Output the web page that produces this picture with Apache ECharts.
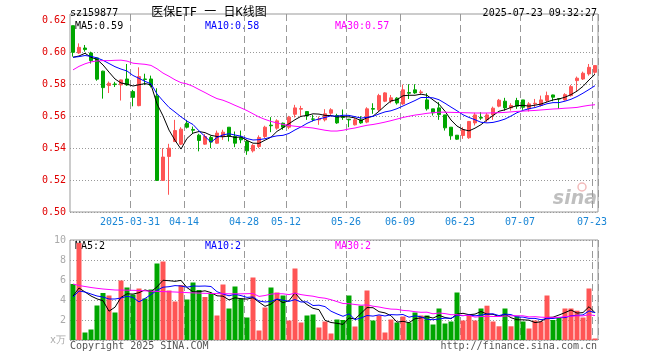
<!DOCTYPE html>
<html><head><meta charset="utf-8">
<script src="https://cdn.jsdelivr.net/npm/echarts@6/dist/echarts.min.js"></script>
<style>html,body{margin:0;padding:0;background:#fff}#c{width:660px;height:360px}</style>
</head><body><div id="c"></div>
<script>
const dates = [
'2025-03-17','2025-03-18','2025-03-19','2025-03-20','2025-03-21','2025-03-24','2025-03-25','2025-03-26','2025-03-27','2025-03-28','2025-03-31',
'2025-04-01','2025-04-02','2025-04-03','2025-04-07','2025-04-08','2025-04-09','2025-04-10','2025-04-11','2025-04-14','2025-04-15','2025-04-16','2025-04-17','2025-04-18','2025-04-21','2025-04-22','2025-04-23','2025-04-24','2025-04-25','2025-04-28','2025-04-29','2025-04-30',
'2025-05-06','2025-05-07','2025-05-08','2025-05-09','2025-05-12','2025-05-13','2025-05-14','2025-05-15','2025-05-16','2025-05-19','2025-05-20','2025-05-21','2025-05-22','2025-05-23','2025-05-26','2025-05-27','2025-05-28','2025-05-29','2025-05-30',
'2025-06-03','2025-06-04','2025-06-05','2025-06-06','2025-06-09','2025-06-10','2025-06-11','2025-06-12','2025-06-13','2025-06-16','2025-06-17','2025-06-18','2025-06-19','2025-06-20','2025-06-23','2025-06-24','2025-06-25','2025-06-26','2025-06-27','2025-06-30',
'2025-07-01','2025-07-02','2025-07-03','2025-07-04','2025-07-07','2025-07-08','2025-07-09','2025-07-10','2025-07-11','2025-07-14','2025-07-15','2025-07-16','2025-07-17','2025-07-18','2025-07-21','2025-07-22','2025-07-23'];
const tickDates = ['2025-03-31','2025-04-14','2025-04-28','2025-05-12','2025-05-26','2025-06-09','2025-06-23','2025-07-07','2025-07-23'];
const tickLabels = ['2025-03-31','04-14','04-28','05-12','05-26','06-09','06-23','07-07','07-23'];
const opens = [0.6167,0.5996,0.6027,0.5996,0.5965,0.5882,0.5792,0.5802,0.5796,0.5833,
0.5754,0.5666,0.5833,0.5833,0.5727,0.5198,0.5348,0.5441,0.5425,0.5556,
0.5517,0.5481,0.5425,0.5467,0.5431,0.5473,0.5531,0.5473,0.5467,0.5442,
0.5383,0.541,0.5473,0.5544,0.5525,0.5556,0.5531,0.5612,0.5644,0.5629,
0.5583,0.5577,0.5577,0.5619,0.5604,0.5596,0.5581,0.5546,0.5577,0.5563,
0.5648,0.564,0.5694,0.5694,0.5713,0.5677,0.5748,0.5765,0.5748,0.5702,
0.5646,0.5652,0.5608,0.5531,0.5481,0.5479,0.5465,0.5558,0.5592,0.5577,
0.5608,0.5663,0.5694,0.5652,0.5698,0.5702,0.5646,0.5677,0.5667,0.5698,
0.5733,0.571,0.5702,0.5729,0.5823,0.5833,0.5865,0.5875];
const closes = [0.600,0.6031,0.6017,0.5948,0.5832,0.5779,0.5806,0.5798,0.5827,0.5796,
0.5718,0.5848,0.583,0.5792,0.5198,0.5344,0.540,0.551,0.5519,0.5531,
0.5512,0.5448,0.5473,0.5438,0.5494,0.550,0.5473,0.5431,0.5452,0.5383,
0.5417,0.5467,0.5531,0.554,0.5571,0.5531,0.5594,0.5652,0.5648,0.5602,
0.5581,0.5581,0.5615,0.564,0.5558,0.5592,0.5577,0.5577,0.5558,0.5646,
0.5644,0.5729,0.5746,0.5715,0.5683,0.5765,0.5744,0.5746,0.5752,0.5646,
0.5621,0.561,0.5527,0.5477,0.5456,0.5515,0.5567,0.5608,0.5588,0.5608,
0.565,0.570,0.5652,0.5667,0.5663,0.5656,0.5677,0.5681,0.5702,0.5729,
0.5719,0.5708,0.5735,0.5785,0.5838,0.5869,0.5906,0.5917];
const lows = [0.5973,0.599,0.6004,0.593,0.5822,0.571,0.5745,0.5783,0.5698,0.579,
0.5662,0.5662,0.5795,0.578,0.5194,0.5195,0.5108,0.544,0.5419,0.5523,
0.5494,0.538,0.5421,0.540,0.5427,0.5452,0.5442,0.5406,0.5431,0.5358,
0.5373,0.540,0.5463,0.550,0.5515,0.5515,0.5519,0.5592,0.5602,0.5577,
0.5567,0.5546,0.5567,0.5608,0.5552,0.5577,0.5531,0.5542,0.5552,0.5556,
0.5615,0.5631,0.5688,0.5681,0.5673,0.5671,0.5708,0.574,0.5733,0.5635,
0.5604,0.5577,0.551,0.5452,0.5452,0.5458,0.5458,0.5542,0.5577,0.5563,
0.5577,0.5656,0.5635,0.5635,0.5646,0.564,0.5629,0.5656,0.566,0.5688,
0.5694,0.5646,0.5698,0.5723,0.5756,0.5827,0.5854,0.5865];
const highs = [0.6167,0.6056,0.6046,0.6004,0.5968,0.5885,0.5817,0.5815,0.5829,0.5927,
0.5765,0.5906,0.5866,0.5854,0.5775,0.540,0.5427,0.5577,0.5531,0.5577,
0.5535,0.549,0.5488,0.5477,0.551,0.5515,0.5531,0.5504,0.551,0.5452,
0.5425,0.548,0.554,0.5594,0.5581,0.556,0.5602,0.5671,0.5665,0.5629,
0.5608,0.5598,0.5644,0.565,0.5615,0.5642,0.5583,0.5588,0.560,0.5656,
0.5681,0.574,0.575,0.5733,0.5719,0.5798,0.580,0.580,0.5765,0.5744,
0.5646,0.5688,0.5608,0.5531,0.5481,0.5531,0.557,0.5621,0.5625,0.5619,
0.566,0.5708,0.5715,0.5681,0.5715,0.5702,0.5688,0.5708,0.5729,0.5754,
0.5735,0.5712,0.5744,0.5796,0.5848,0.5879,0.5927,0.5917];
const volumes = [5.6,9.7,0.75,1.05,3.45,4.7,4.45,2.75,5.95,5.25,
4.55,5.15,4.15,5.05,7.65,7.85,4.95,3.85,5.5,4.05,
5.75,5.0,4.3,4.6,2.45,5.55,3.15,5.35,4.15,2.25,
6.25,0.95,3.25,5.25,4.75,4.45,1.95,7.15,1.75,2.45,
2.55,1.25,1.85,0.65,2.05,2.0,4.45,1.35,3.43,4.95,
1.95,2.45,0.75,2.05,1.75,2.35,1.75,2.75,2.45,2.45,
1.55,3.15,1.65,1.85,4.75,1.95,2.45,1.95,3.15,3.43,
1.85,1.37,3.15,1.37,2.37,1.85,1.15,1.95,1.85,4.45,
2.0,2.23,3.15,3.15,2.93,2.25,5.15,0.15];
const ma5 = [0.5969,0.5977,0.5994,0.5969,0.5955,0.5921,0.5876,0.5833,0.5808,0.5801,
0.5789,0.5797,0.5804,0.5797,0.5677,0.5602,0.5513,0.5449,0.5394,0.5461,
0.5494,0.5504,0.5497,0.548,0.5473,0.5471,0.5476,0.5467,0.547,0.5448,
0.5431,0.543,0.545,0.5468,0.5505,0.5528,0.5553,0.5578,0.5599,0.5605,
0.5615,0.5613,0.5605,0.5604,0.5595,0.5597,0.5596,0.5589,0.5572,0.559,
0.56,0.5631,0.5665,0.5696,0.5703,0.5728,0.5731,0.5731,0.5738,0.5731,
0.5702,0.5675,0.5631,0.5576,0.5538,0.5517,0.5508,0.5525,0.5547,0.5577,
0.5604,0.5631,0.564,0.5655,0.5666,0.5668,0.5663,0.5669,0.5676,0.5689,
0.5702,0.5708,0.5719,0.5735,0.5757,0.5787,0.5827,0.5863];
const ma10 = [0.5969,0.5973,0.598,0.5975,0.5965,0.595,0.593,0.591,0.5895,0.5883,
0.5855,0.5837,0.5818,0.5803,0.5739,0.5696,0.5655,0.5626,0.5596,0.5569,
0.5548,0.5508,0.5473,0.5437,0.5467,0.5483,0.549,0.5482,0.5475,0.546,
0.5451,0.5453,0.5459,0.5469,0.5477,0.548,0.5492,0.5514,0.5533,0.5555,
0.5572,0.5583,0.5592,0.5602,0.56,0.5606,0.5605,0.5597,0.5588,0.5593,
0.5599,0.5614,0.5627,0.5634,0.5647,0.5664,0.5681,0.5698,0.5717,0.5717,
0.5715,0.5703,0.5681,0.5657,0.5634,0.5609,0.5592,0.5578,0.5562,0.5558,
0.5561,0.557,0.5582,0.5601,0.5622,0.5636,0.5647,0.5654,0.5666,0.5678,
0.5685,0.5685,0.5694,0.5706,0.5723,0.5744,0.5767,0.5791];
const ma30 = [0.589,0.5912,0.5928,0.594,0.5946,0.5948,0.5948,0.595,0.5951,0.5945,
0.5932,0.5928,0.5925,0.5918,0.5897,0.587,0.585,0.5828,0.581,0.5802,
0.5787,0.5767,0.5748,0.5728,0.571,0.57,0.5685,0.5668,0.5652,0.5635,
0.5615,0.5595,0.558,0.5567,0.5558,0.5548,0.5542,0.5537,0.5533,0.553,
0.5526,0.5519,0.5512,0.5507,0.5507,0.5512,0.552,0.5526,0.5535,0.5543,
0.5548,0.5555,0.5563,0.5572,0.5582,0.5592,0.56,0.5607,0.5612,0.5618,
0.5622,0.5625,0.5625,0.5624,0.5623,0.5622,0.5621,0.562,0.562,0.562,
0.5621,0.5622,0.5624,0.5627,0.563,0.5632,0.5634,0.5636,0.5639,0.5642,
0.5645,0.5647,0.565,0.5652,0.5655,0.5662,0.5668,0.5672];
const vma5 = [4.4,5.2,4.8,4.4,4.11,3.93,2.88,3.28,4.26,4.62,
4.59,4.73,5.01,4.83,5.31,5.97,5.93,5.87,5.96,5.24,
4.82,4.83,4.92,4.74,4.42,4.38,4.01,4.22,4.13,4.09,
4.23,3.79,3.37,3.59,4.09,3.73,3.93,4.71,4.01,3.55,
3.17,3.03,1.97,1.75,1.67,1.56,2.2,2.1,2.66,3.24,
3.23,2.83,2.71,2.43,1.79,1.87,1.73,2.13,2.21,2.35,
2.19,2.47,2.25,2.13,2.59,2.67,2.53,2.59,2.85,2.59,
2.57,2.35,2.59,2.23,2.02,2.02,1.98,1.74,1.83,2.25,
2.28,2.5,2.74,3.0,2.69,2.74,3.33,2.73];
const vma10 = [4.3,4.9,4.8,4.6,4.4,4.3,4.1,4.1,4.2,4.37,
4.26,3.81,4.15,4.55,4.97,5.28,5.33,5.44,5.4,5.28,
5.4,5.38,5.4,5.35,4.83,4.6,4.42,4.57,4.44,4.26,
4.31,3.9,3.8,3.86,4.09,3.98,3.86,4.04,3.8,3.82,
3.45,3.48,3.34,2.88,2.61,2.37,2.62,2.04,2.2,2.45,
2.39,2.51,2.4,2.54,2.51,2.55,2.28,2.42,2.32,2.07,
2.03,2.1,2.19,2.17,2.47,2.43,2.5,2.42,2.49,2.59,
2.62,2.44,2.59,2.54,2.3,2.29,2.16,2.16,2.03,2.14,
2.15,2.24,2.24,2.42,2.47,2.51,2.91,2.73];
const vma30 = [5.6,5.45,5.35,5.25,5.17,5.1,5.05,5.0,4.99,4.98,
4.97,4.95,4.92,4.88,4.86,4.84,4.82,4.8,4.77,4.74,
4.71,4.69,4.67,4.65,4.64,4.63,4.62,4.62,4.62,4.63,
4.65,4.36,4.45,4.59,4.63,4.62,4.54,4.68,4.54,4.45,
4.38,4.25,4.18,4.03,3.84,3.65,3.63,3.55,3.48,3.51,
3.38,3.3,3.18,3.09,3.07,2.96,2.92,2.83,2.77,2.78,
2.62,2.7,2.64,2.53,2.53,2.45,2.46,2.29,2.34,2.37,
2.35,2.35,2.39,2.42,2.43,2.42,2.31,2.33,2.28,2.26,
2.27,2.26,2.34,2.38,2.42,2.41,2.53,2.44];
const priceLabels = {ma5:'MA5:0.59', ma10:'MA10:0.58', ma30:'MA30:0.57'};
const volLabels = {ma5:'MA5:2', ma10:'MA10:2', ma30:'MA30:2'};

const RED = '#ff5555', GREEN = '#00a600';
const MONO = '"DejaVu Sans Mono", monospace';
const GRID_C = '#999999';
const candle = dates.map((d, i) => [opens[i], closes[i], lows[i], highs[i]]);
const isTick = (i, v) => tickDates.indexOf(v) >= 0;

function xAxisDef(gi, showLabel) {
  return {
    type: 'category', gridIndex: gi, data: dates, boundaryGap: true,
    axisLine: {show: false}, axisTick: {show: false, interval: isTick},
    axisLabel: {show: showLabel, interval: isTick, formatter: v => tickLabels[tickDates.indexOf(v)],
      color: '#1a86d6', fontFamily: MONO, fontSize: 10, margin: 5, padding: [0, 6, 0, 0]},
    splitLine: {show: true, interval: isTick, lineStyle: {color: GRID_C, type: [7, 4], width: 1}}
  };
}
const lineS = (name, data, color, xi, yi) => ({
  type: 'line', name, data, xAxisIndex: xi, yAxisIndex: yi, symbol: 'none', smooth: false,
  lineStyle: {color, width: 1}, itemStyle: {color}, z: 3, silent: true
});
const txt = (x, y, text, color, align, font) => ({
  type: 'text', x, y, silent: true,
  style: {text, fill: color, font: font || ('10px ' + MONO), textAlign: align || 'left', textVerticalAlign: 'middle'}
});

const chart = echarts.init(document.getElementById('c'), null, {renderer: 'canvas'});
chart.setOption({
  animation: false,
  backgroundColor: '#fff',
  grid: [
    {left: 70, top: 14, width: 528, height: 198, show: true, borderColor: '#999', borderWidth: 1, backgroundColor: 'transparent'},
    {left: 70, top: 240, width: 528, height: 100, show: true, borderColor: '#999', borderWidth: 1, backgroundColor: 'transparent'}
  ],
  xAxis: [xAxisDef(0, true), xAxisDef(1, false)],
  yAxis: [
    {type: 'value', gridIndex: 0, min: 0.5, max: 0.624, interval: 0.02, scale: false,
     axisLine: {show: false}, axisTick: {show: false},
     axisLabel: {color: '#e00000', fontFamily: MONO, fontSize: 10, margin: 4,
       formatter: v => Math.abs(v * 50 - Math.round(v * 50)) < 1e-6 ? v.toFixed(2) : ''},
     splitLine: {show: true, lineStyle: {color: [GRID_C, GRID_C, GRID_C, GRID_C, GRID_C, GRID_C, 'rgba(0,0,0,0)', 'rgba(0,0,0,0)'], type: [1, 2], width: 1}}},
    {type: 'value', gridIndex: 1, min: 0, max: 10, interval: 2,
     axisLine: {show: false}, axisTick: {show: false},
     axisLabel: {color: '#aaaaaa', fontFamily: MONO, fontSize: 10, margin: 4,
       formatter: v => v === 0 ? 'x万' : String(v)},
     splitLine: {show: true, lineStyle: {color: GRID_C, type: [1, 2], width: 1}}}
  ],
  series: [
    {type: 'candlestick', data: candle, xAxisIndex: 0, yAxisIndex: 0, barWidth: 4, z: 2, silent: true,
     itemStyle: {color: RED, color0: GREEN, borderColor: RED, borderColor0: GREEN, borderWidth: 1}},
    lineS('MA5', ma5, '#000000', 0, 0),
    lineS('MA10', ma10, '#0000ff', 0, 0),
    lineS('MA30', ma30, '#ff00ff', 0, 0),
    {type: 'bar', data: volumes, xAxisIndex: 1, yAxisIndex: 1, barWidth: 5, z: 2, silent: true,
     itemStyle: {color: p => closes[p.dataIndex] >= opens[p.dataIndex] ? RED : GREEN}},
    lineS('VMA5', vma5, '#000000', 1, 1),
    lineS('VMA10', vma10, '#0000ff', 1, 1),
    lineS('VMA30', vma30, '#ff00ff', 1, 1)
  ],
  graphic: [
    txt(70, 13, 'sz159877', '#000'),
    txt(209, 13, '医保ETF 一 日K线图', '#000', 'center', '12px "DejaVu Sans Mono", "Noto Sans CJK SC"'),
    txt(597, 13, '2025-07-23 09:32:27', '#000', 'right'),
    txt(75, 26, priceLabels.ma5, '#000'),
    txt(205, 26, priceLabels.ma10, '#0000ff'),
    txt(335, 26, priceLabels.ma30, '#ff00ff'),
    txt(75, 246, volLabels.ma5, '#000'),
    txt(205, 246, volLabels.ma10, '#0000ff'),
    txt(335, 246, volLabels.ma30, '#ff00ff'),
    txt(70, 346, 'Copyright 2025 SINA.COM', '#555'),
    txt(597, 346, 'http://finance.sina.com.cn', '#555', 'right'),
    txt(597, 199, 'sina', 'rgba(170,170,170,0.75)', 'right', 'italic bold 19px "DejaVu Sans"'),
    {type: 'circle', silent: true, shape: {cx: 582, cy: 187, r: 4}, style: {fill: 'none', stroke: 'rgba(230,120,120,0.5)', lineWidth: 1.5}}
  ]
});
</script>
</body></html>
